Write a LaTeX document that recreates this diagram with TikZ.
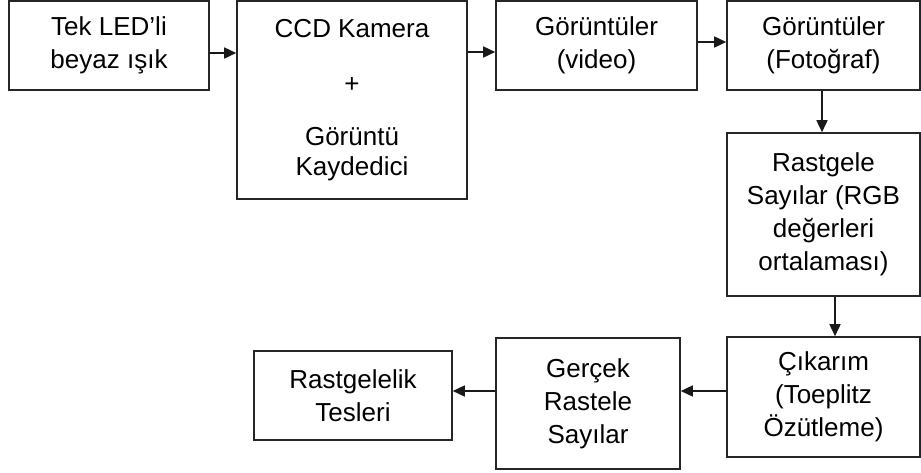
\documentclass[tikz,border=0pt]{standalone}
\usepackage{fontspec}
\setmainfont{Liberation Sans}
\usetikzlibrary{arrows.meta}

\begin{document}
\begin{tikzpicture}[x=1pt,y=-1pt]
   \tikzset{box/.style={draw=black!85,line width=1.6pt,inner sep=0pt,align=center,
         font=\fontsize{26}{33}\selectfont}}
   \tikzset{arr/.style={draw=black!90,line width=1.6pt,-{Triangle[length=12pt,width=11pt]}}}
   \useasboundingbox (0,0) rectangle (921,472);
   % upper row
   \node[box,minimum width=200pt,minimum height=89pt] (led) at (109,45.5) {Tek LED’li\\beyaz ışık};
   \node[box,minimum width=230pt,minimum height=198pt] (ccd) at (352,100)
         {CCD Kamera\\[22pt]+\\[20.5pt]Görüntü\\[-3pt]Kaydedici};
   \node[box,minimum width=201pt,minimum height=89pt] (video) at (596.5,45.5) {Görüntüler\\(video)};
   \node[box,minimum width=193pt,minimum height=89pt] (foto) at (823.5,45.5) {Görüntüler\\(Fotoğraf)};
   % right column
   \node[box,minimum width=193pt,minimum height=163pt] (rgb) at (823.5,214.5)
         {Rastgele\\Sayılar (RGB\\değerleri\\ortalaması)};
   \node[box,minimum width=193pt,minimum height=120pt] (cik) at (823.5,397) {Çıkarım\\(Toeplitz\\Özütleme)};
   % lower row
   \node[box,minimum width=184pt,minimum height=131pt] (gercek) at (588,403.5) {Gerçek\\Rastele\\Sayılar};
   \node[box,minimum width=198pt,minimum height=89pt] (test) at (353,395.5) {Rastgelelik\\Tesleri};
   % arrows
   \draw[arr] ([yshift=-7.5pt]led.east) -- ([yshift=-7.5pt]led.east -| ccd.west);
   \draw[arr] ([yshift=-6.5pt]video.west -| ccd.east) -- ([yshift=-6.5pt]video.west);
   \draw[arr] ([yshift=3.5pt]video.east) -- ([yshift=3.5pt]foto.west);
   \draw[arr] ([xshift=-1.5pt]foto.south) -- ([xshift=-1.5pt]rgb.north);
   \draw[arr] ([xshift=11.5pt]rgb.south) -- ([xshift=11.5pt]cik.north);
   \draw[arr] ([yshift=6pt]cik.west) -- ([yshift=6pt]cik.west -| gercek.east);
   \draw[arr] ([yshift=4.5pt]test.east -| gercek.west) -- ([yshift=4.5pt]test.east);
\end{tikzpicture}
\end{document}
